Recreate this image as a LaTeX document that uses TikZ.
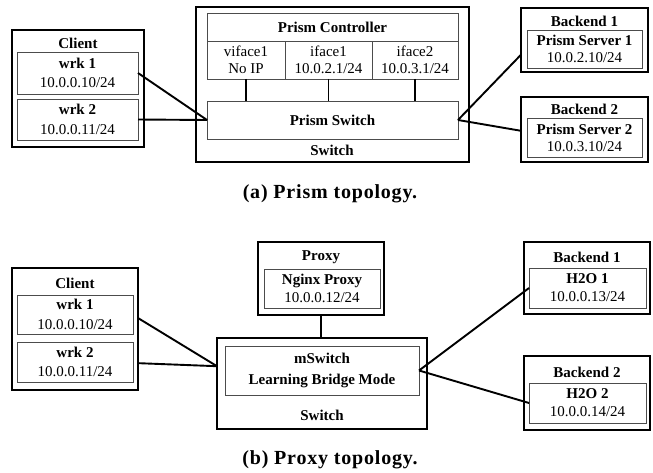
\documentclass[tikz,border=0pt]{standalone}
\usepackage{fontspec}
\newfontfamily\tnr{Liberation Serif}
\newfontfamily\capfont{Liberation Serif}[LetterSpace=4]
\usetikzlibrary{calc}
\newcommand\mkbox[6]{\node[#1, minimum width={(#5-#3)*1pt}, minimum height={(#6-#4)*1pt}] (#2) at ({(#3+#5)/2},{(#4+#6)/2})}
\begin{document}
\begin{tikzpicture}[x=1pt,y=-1pt,
  outer/.style={draw=black, line width=2.2pt, inner sep=0pt, outer sep=0pt},
  inner/.style={draw=black!70, line width=0.9pt, inner sep=0pt, outer sep=0pt, align=center, font=\tnr\fontsize{15}{18}\selectfont},
  lead17/.style={font=\tnr\fontsize{15}{17}\selectfont},
  lead19/.style={font=\tnr\fontsize{15}{19.5}\selectfont},
  lead21/.style={font=\tnr\fontsize{15}{21}\selectfont},
  lbl/.style={inner sep=0pt, font=\tnr\bfseries\fontsize{15}{18}\selectfont},
  conn/.style={line width=1.9pt, black},
  captext/.style={inner sep=0pt, font=\capfont\bfseries\fontsize{20}{24}\selectfont}]
\useasboundingbox (0,0) rectangle (653,473);

% ---------- (a) Prism topology ----------
\mkbox{outer}{client1}{12}{30}{144}{147} {};
\node[lbl] (clientlbl1) at (78,43) {Client};
\mkbox{inner,lead19}{wrk1}{17}{52}{138}{94} {\textbf{wrk 1}\\10.0.0.10/24};
\mkbox{inner,lead19}{wrk2}{17}{99}{138}{140} {\textbf{wrk 2}\\10.0.0.11/24};

\mkbox{outer}{sw1}{196}{7}{469}{162} {};
\mkbox{inner}{ctrl}{207}{13}{458}{41} {\textbf{Prism Controller}};
\mkbox{inner,lead17}{vif}{207}{41}{285}{79} {viface1\\No IP};
\mkbox{inner,lead17}{if1}{285}{41}{372}{79} {iface1\\10.0.2.1/24};
\mkbox{inner,lead17}{if2}{372}{41}{458}{79} {iface2\\10.0.3.1/24};
\mkbox{inner}{psw}{207}{101}{458}{139} {\textbf{Prism Switch}};
\node[lbl] (swlbl1) at (332,150) {Switch};

\mkbox{outer}{be1}{521}{8}{648}{72} {};
\node[lbl] (be1lbl) at (584.5,21) {Backend 1};
\mkbox{inner,lead17}{ps1}{527}{30}{642}{68} {\textbf{Prism Server 1}\\10.0.2.10/24};
\mkbox{outer}{be2}{521}{97}{648}{162} {};
\node[lbl] (be2lbl) at (584.5,109) {Backend 2};
\mkbox{inner,lead17}{ps2}{527}{118}{642}{157} {\textbf{Prism Server 2}\\10.0.3.10/24};

\draw[conn] (wrk1.east) -- (psw.west);
\draw[conn] (wrk2.east) -- (psw.west);
\draw[conn] (vif.south) -- (vif.south |- psw.north);
\draw[conn] (if1.south) -- (if1.south |- psw.north);
\draw[conn] (if2.south) -- (if2.south |- psw.north);
\draw[conn] (psw.east) -- ($(be1.north west)!0.73!(be1.south west)$);
\draw[conn] (psw.east) -- ($(be2.north west)!0.52!(be2.south west)$);

\node[captext] (capa) at (330,194) {(a) Prism topology.};

% ---------- (b) Proxy topology ----------
\mkbox{outer}{client2}{12}{268}{138}{390} {};
\node[lbl] (clientlbl2) at (75,283) {Client};
\mkbox{inner,lead19}{wrk3}{17}{295}{133}{334} {\textbf{wrk 1}\\10.0.0.10/24};
\mkbox{inner,lead19}{wrk4}{17}{342}{133}{382} {\textbf{wrk 2}\\10.0.0.11/24};

\mkbox{outer}{proxy}{258}{242}{384}{315} {};
\node[lbl] (proxylbl) at (321,257) {Proxy};
\mkbox{inner}{ngx}{264}{269}{380}{308} {\textbf{Nginx Proxy}\\10.0.0.12/24};

\mkbox{outer}{sw2}{217}{338}{427}{429} {};
\mkbox{inner,lead21}{msw}{225}{346}{419}{395} {\textbf{mSwitch}\\\textbf{Learning Bridge Mode}};
\node[lbl] (swlbl2) at (322,415) {Switch};

\mkbox{outer}{be3}{524}{242}{650}{314} {};
\node[lbl] (be3lbl) at (587,257) {Backend 1};
\mkbox{inner}{h1}{529}{268}{646}{308} {\textbf{H2O 1}\\10.0.0.13/24};
\mkbox{outer}{be4}{524}{356}{650}{430} {};
\node[lbl] (be4lbl) at (587,372) {Backend 2};
\mkbox{inner}{h2}{529}{383}{646}{423} {\textbf{H2O 2}\\10.0.0.14/24};

\draw[conn] ($(client2.north east)!0.41!(client2.south east)$) -- ($(sw2.north west)!0.31!(sw2.south west)$);
\draw[conn] ($(client2.north east)!0.78!(client2.south east)$) -- ($(sw2.north west)!0.31!(sw2.south west)$);
\draw[conn] (proxy.south) -- (proxy.south |- sw2.north);
\draw[conn] (msw.east) -- (h1.west);
\draw[conn] (msw.east) -- (h2.west);

\node[captext] (capb) at (330,460) {(b) Proxy topology.};
\end{tikzpicture}
\end{document}
